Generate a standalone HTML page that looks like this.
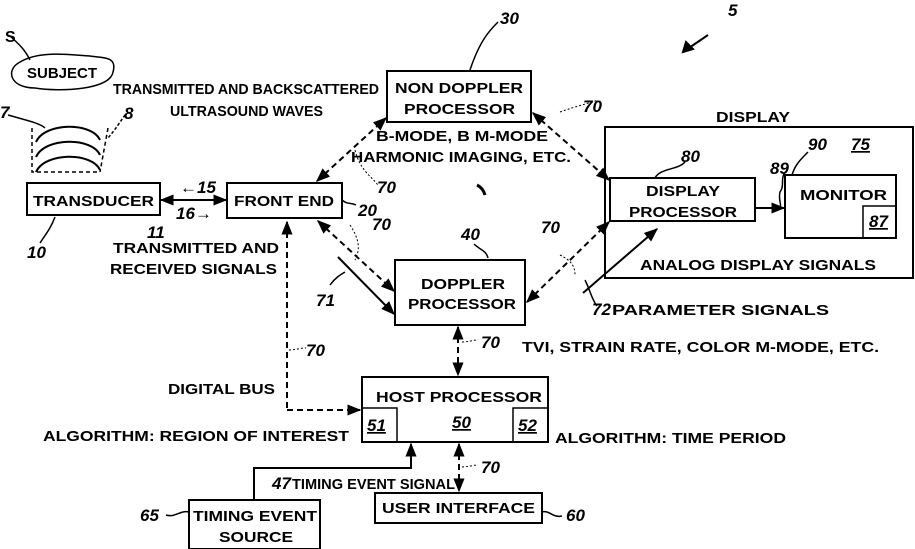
<!DOCTYPE html>
<html><head><style>
html,body{margin:0;padding:0;background:#fff;width:915px;height:549px;overflow:hidden}
text{font-family:"Liberation Sans",sans-serif;font-size:15px;font-weight:bold;fill:#000}
.i{font-style:italic;font-size:17px}
</style></head><body>
<svg width="915" height="549" viewBox="0 0 915 549" xmlns="http://www.w3.org/2000/svg">
<defs>
<marker id="a" viewBox="0 0 10 10" refX="9" refY="5" markerWidth="7" markerHeight="7" orient="auto-start-reverse"><path d="M0,1L10,5L0,9z" fill="#000"/></marker>
</defs>
<g fill="none" stroke="#000" stroke-width="2">
<rect x="27" y="183" width="133" height="32"/>
<rect x="227" y="183" width="115" height="35"/>
<rect x="387" y="71" width="144" height="51"/>
<rect x="395" y="260" width="130" height="65"/>
<rect x="605" y="127" width="308" height="151"/>
<rect x="610" y="178" width="145" height="43"/>
<rect x="785" y="175" width="111" height="63"/>
<rect x="863" y="206" width="33" height="32" stroke-width="1.5"/>
<rect x="362" y="377" width="186" height="65"/>
<rect x="362" y="408" width="35" height="34" stroke-width="1.5"/>
<rect x="513" y="408" width="35" height="34" stroke-width="1.5"/>
<rect x="375" y="493" width="167" height="30"/>
<rect x="189" y="500" width="131" height="49"/>
<path d="M20,62 C5,70 10,88 35,88 C60,92 110,90 113,72 C118,55 100,58 90,56 C70,55 40,50 20,62z" stroke-width="1.5"/>
</g>
<g fill="none" stroke="#000" stroke-width="2">
<path d="M36,142 C45,122 92,122 100,140"/>
<path d="M36,157 C45,137 92,137 100,155"/>
<path d="M36,172 C45,152 92,152 100,170"/>
</g>
<g fill="none" stroke="#000" stroke-width="1.5">
<path d="M32,128 V172 H100 M108,128 L100,172" stroke-dasharray="4,3"/>
<path d="M10,36 C20,45 25,50 30,60"/>
<path d="M8,115 C25,120 40,123 45,128"/>
<path d="M125,115 C120,122 115,130 108,138" stroke-dasharray="3,2"/>
<path d="M55,217 C50,230 45,235 40,243"/>
<path d="M342,200 C348,205 350,202 356,205"/>
<path d="M474,244 C480,250 486,250 488,258"/>
<path d="M498,22 C490,30 480,40 470,70"/>
<path d="M685,162 C678,170 660,168 655,178"/>
<path d="M808,152 C800,160 795,165 792,175"/>
<path d="M785,172 C780,180 785,185 780,192 C778,200 782,204 780,208"/>
<path d="M166,515 C175,518 180,510 189,512"/>
<path d="M542,512 C550,510 552,518 562,516"/>
<path d="M330,285 C335,278 340,275 345,272"/>
<path d="M585,280 C590,290 592,300 597,306"/>
</g>
<g fill="none" stroke="#000" stroke-width="2" marker-start="url(#a)" marker-end="url(#a)">
<line x1="161" y1="200" x2="226" y2="200"/>
</g>
<g fill="none" stroke="#000" stroke-width="2" stroke-dasharray="6,4" marker-start="url(#a)" marker-end="url(#a)">
<line x1="317" y1="181" x2="386" y2="118"/>
<line x1="533" y1="113" x2="609" y2="180"/>
<line x1="318" y1="221" x2="394" y2="291"/>
<line x1="527" y1="302" x2="609" y2="222"/>
<line x1="458" y1="327" x2="458" y2="375"/>
<line x1="459" y1="444" x2="459" y2="491"/>
</g>
<g fill="none" stroke="#000" stroke-width="2" stroke-dasharray="6,4">
<path d="M287,408 V222" marker-end="url(#a)"/>
<path d="M287,410 H360" marker-end="url(#a)"/>
</g>
<g fill="none" stroke="#000" stroke-width="2">
<line x1="338" y1="257" x2="394" y2="314" marker-end="url(#a)"/>
<line x1="583" y1="293" x2="657" y2="229" marker-end="url(#a)"/>
<line x1="756" y1="208" x2="784" y2="208" marker-end="url(#a)"/>
<path d="M254,500 V468 H411 V444" marker-end="url(#a)"/>
</g>
<g fill="none" stroke="#000" stroke-width="1" stroke-dasharray="2,2">
<path d="M355,150 C360,170 370,175 378,185"/>
<path d="M350,225 C360,240 360,250 355,260"/>
<path d="M560,112 C580,105 590,103 598,100"/>
<path d="M560,255 C570,260 575,265 575,275"/>
<path d="M289,350 C295,350 300,348 306,348"/>
<path d="M462,342 C468,342 473,340 478,340"/>
<path d="M462,467 C468,467 473,465 478,465"/>
</g>
<path d="M683,52 L708,35 M683,52 l3,-10 l7,7z" stroke="#000" stroke-width="2" fill="#000"/>
<path d="M477,185 q6,3 8,10" stroke="#000" stroke-width="3" fill="none"/>
<text x="5" y="42" style="font-size:16px">S</text>
<text x="27" y="78">SUBJECT</text>
<text x="113" y="94" textLength="266" lengthAdjust="spacingAndGlyphs">TRANSMITTED AND BACKSCATTERED</text>
<text x="170" y="116" textLength="153" lengthAdjust="spacingAndGlyphs">ULTRASOUND WAVES</text>
<text x="395" y="93" textLength="128" lengthAdjust="spacingAndGlyphs">NON DOPPLER</text>
<text x="404" y="114" textLength="111" lengthAdjust="spacingAndGlyphs">PROCESSOR</text>
<text x="376" y="141" textLength="172" lengthAdjust="spacingAndGlyphs">B-MODE, B M-MODE</text>
<text x="351" y="162" textLength="220" lengthAdjust="spacingAndGlyphs">HARMONIC IMAGING, ETC.</text>
<text x="33" y="206" textLength="121" lengthAdjust="spacingAndGlyphs">TRANSDUCER</text>
<text x="234" y="206" textLength="100" lengthAdjust="spacingAndGlyphs">FRONT END</text>
<text x="113" y="253" textLength="166" lengthAdjust="spacingAndGlyphs">TRANSMITTED AND</text>
<text x="110" y="274" textLength="167" lengthAdjust="spacingAndGlyphs">RECEIVED SIGNALS</text>
<text x="421" y="289" textLength="84" lengthAdjust="spacingAndGlyphs">DOPPLER</text>
<text x="408" y="309" textLength="108" lengthAdjust="spacingAndGlyphs">PROCESSOR</text>
<text x="716" y="122" textLength="74" lengthAdjust="spacingAndGlyphs">DISPLAY</text>
<text x="646" y="196" textLength="74" lengthAdjust="spacingAndGlyphs">DISPLAY</text>
<text x="629" y="217" textLength="108" lengthAdjust="spacingAndGlyphs">PROCESSOR</text>
<text x="800" y="200" textLength="87" lengthAdjust="spacingAndGlyphs">MONITOR</text>
<text x="640" y="270" textLength="236" lengthAdjust="spacingAndGlyphs">ANALOG DISPLAY SIGNALS</text>
<text x="612" y="315" textLength="217" lengthAdjust="spacingAndGlyphs">PARAMETER SIGNALS</text>
<text x="522" y="352" textLength="357" lengthAdjust="spacingAndGlyphs">TVI, STRAIN RATE, COLOR M-MODE, ETC.</text>
<text x="168" y="394" textLength="107" lengthAdjust="spacingAndGlyphs">DIGITAL BUS</text>
<text x="376" y="402" textLength="166" lengthAdjust="spacingAndGlyphs">HOST PROCESSOR</text>
<text x="43" y="441" textLength="306" lengthAdjust="spacingAndGlyphs">ALGORITHM: REGION OF INTEREST</text>
<text x="555" y="443" textLength="231" lengthAdjust="spacingAndGlyphs">ALGORITHM: TIME PERIOD</text>
<text x="292" y="489" textLength="163" lengthAdjust="spacingAndGlyphs">TIMING EVENT SIGNAL</text>
<text x="382" y="513" textLength="153" lengthAdjust="spacingAndGlyphs">USER INTERFACE</text>
<text x="193" y="521" textLength="124" lengthAdjust="spacingAndGlyphs">TIMING EVENT</text>
<text x="219" y="542" textLength="74" lengthAdjust="spacingAndGlyphs">SOURCE</text>
<g>
<text x="728" y="16" class="i">5</text>
<text x="500" y="24" class="i">30</text>
<text x="0" y="118" class="i">7</text>
<text x="124" y="119" class="i">8</text>
<text x="180" y="193" class="i">←15</text>
<text x="176" y="219" class="i">16→</text>
<text x="147" y="238" class="i">11</text>
<text x="27" y="258" class="i">10</text>
<text x="358" y="216" class="i">20</text>
<text x="377" y="193" class="i">70</text>
<text x="372" y="230" class="i">70</text>
<text x="583" y="112" class="i">70</text>
<text x="541" y="233" class="i">70</text>
<text x="461" y="240" class="i">40</text>
<text x="681" y="162" class="i">80</text>
<text x="770" y="174" class="i">89</text>
<text x="808" y="150" class="i">90</text>
<text x="851" y="150" class="i" style="text-decoration:underline">75</text>
<text x="869" y="227" class="i" style="text-decoration:underline">87</text>
<text x="316" y="306" class="i">71</text>
<text x="592" y="315" class="i">72</text>
<text x="306" y="356" class="i">70</text>
<text x="481" y="348" class="i">70</text>
<text x="452" y="428" class="i" style="text-decoration:underline">50</text>
<text x="367" y="431" class="i" style="text-decoration:underline">51</text>
<text x="518" y="431" class="i" style="text-decoration:underline">52</text>
<text x="272" y="489" class="i">47</text>
<text x="481" y="473" class="i">70</text>
<text x="140" y="521" class="i">65</text>
<text x="566" y="521" class="i">60</text>
</g>
</svg>
</body></html>
